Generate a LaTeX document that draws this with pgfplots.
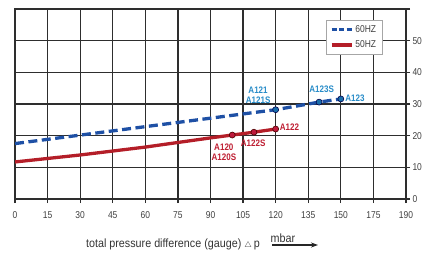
\documentclass[border=0pt]{standalone}
\usepackage{pgfplots}
\pgfplotsset{compat=1.18}
\usetikzlibrary{arrows.meta}
\usepackage{fontspec}
\setmainfont{Liberation Sans}
\newfontfamily\narrow[FakeStretch=0.85]{Liberation Sans}
\newfontfamily\labelfont[FakeStretch=0.9]{Liberation Sans}
\definecolor{blueline}{RGB}{30,80,165}
\definecolor{redline}{RGB}{180,30,40}
\definecolor{bluetext}{RGB}{40,140,200}
\definecolor{redtext}{RGB}{190,30,50}
\definecolor{bluemark}{RGB}{25,110,170}
\definecolor{redmark}{RGB}{190,25,60}
\begin{document}
\begin{tikzpicture}[x=1bp,y=1bp]
\useasboundingbox (-15,-62) rectangle (408,199);
\begin{axis}[
  scale only axis, width=391bp, height=190bp,
  xmin=0, xmax=12, ymin=0, ymax=60,
  xtick={0,...,12},
  xticklabels={0,15,30,45,60,75,90,105,120,135,150,175,190},
  ytick={0,10,...,60},
  yticklabels={0,10,20,30,40,50,},
  xtick pos=left, ytick pos=right, yticklabel pos=right,
  grid=major, major grid style={black!82, line width=1.3bp},
  axis line style={black!82, line width=1.3bp},
  tick align=outside, major tick length=4bp,
  tick style={black!82, line width=1.2bp},
  xticklabel style={font=\narrow\fontsize{10}{11}\selectfont, color=black!75, yshift=-5bp},
  yticklabel style={font=\narrow\fontsize{10}{11}\selectfont, color=black!75, xshift=-1bp},
  legend style={at={(rel axis cs:0.795,0.942)}, anchor=north west, draw=black!35,
    font=\narrow\fontsize{10}{11}\selectfont, inner xsep=4bp, inner ysep=3bp, row sep=3bp, text=black!75},
  legend cell align=left,
  legend image code/.code={\draw[#1] (0bp,0bp) -- (20bp,0bp);},
]
\addlegendimage{blueline, line width=3.3bp, dash pattern=on 5bp off 2.5bp}
\addlegendentry{60HZ}
\addlegendimage{redline, line width=3.3bp}
\addlegendentry{50HZ}
\addplot[blueline, line width=3.3bp, dash pattern=on 9bp off 4.5bp, forget plot] coordinates {(0,17.5)(8,28.2)(9.333,30.6)(10,31.6)};
\addplot[redline, line width=3.3bp, forget plot] coordinates {(0,11.7)(2,13.9)(4,16.4)(6,19.3)(6.667,20.2)(7.333,21.1)(8,22.1)};
\addplot[only marks, mark=*, mark size=3bp, mark options={fill=bluemark, draw=blue!30!black, line width=0.6bp}, forget plot] coordinates {(8,28.2)(9.333,30.6)(10,31.6)};
\addplot[only marks, mark=*, mark size=3bp, mark options={fill=redmark, draw=red!30!black, line width=0.6bp}, forget plot] coordinates {(6.667,20.2)(7.333,21.1)(8,22.1)};
\begin{scope}[every node/.style={font=\narrow\bfseries\fontsize{9.5}{10.5}\selectfont, inner sep=0pt, align=center}]
\node[bluetext, anchor=south] at (axis cs:7.46,30.0) {A121\\A121S};
\node[bluetext] at (axis cs:9.41,34.7) {A123S};
\node[bluetext, anchor=west] at (axis cs:10.13,31.9) {A123};
\node[redtext, anchor=west] at (axis cs:8.12,22.6) {A122};
\node[redtext] at (axis cs:6.41,14.8) {A120\\A120S};
\node[redtext] at (axis cs:7.31,17.6) {A122S};
\end{scope}
\end{axis}
\node[font=\labelfont\fontsize{12}{13}\selectfont, text=black!80, inner sep=0pt, anchor=base] at (158,-48) {total pressure difference (gauge) {\fontsize{8}{9}\selectfont$\triangle$}\,p};
\node[font=\labelfont\fontsize{12}{13}\selectfont, text=black!80, inner sep=0pt, anchor=base] at (268,-43) {mbar};
\draw[-{Stealth[length=7bp,width=5bp]}, line width=1.1bp, black!85] (257,-46) -- (303,-46);
\end{tikzpicture}
\end{document}
